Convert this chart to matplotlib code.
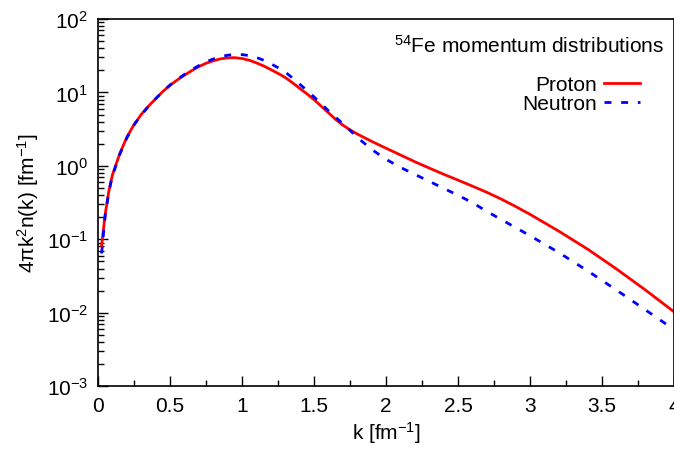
import matplotlib
matplotlib.use("Agg")
import matplotlib.pyplot as plt
from matplotlib.ticker import LogLocator, MultipleLocator, NullFormatter

plt.rcParams["font.family"] = ["Liberation Sans", "DejaVu Sans"]
plt.rcParams["mathtext.fontset"] = "custom"
plt.rcParams["mathtext.rm"] = "Liberation Sans"
plt.rcParams["mathtext.it"] = "Liberation Sans:italic"

# momentum k [fm^-1]
k = [0.025, 0.05, 0.075, 0.1, 0.15, 0.2, 0.25, 0.3, 0.35, 0.4, 0.45, 0.5,
     0.55, 0.6, 0.65, 0.7, 0.75, 0.8, 0.85, 0.9, 0.95, 1.0, 1.05, 1.1, 1.15,
     1.2, 1.25, 1.3, 1.35, 1.4, 1.45, 1.5, 1.55, 1.6, 1.65, 1.7, 1.75, 1.8,
     1.9, 2.0, 2.1, 2.2, 2.3, 2.4, 2.5, 2.6, 2.7, 2.8, 2.9, 3.0, 3.2, 3.4,
     3.6, 3.8, 4.0]
proton = [0.082, 0.22, 0.45, 0.75, 1.45, 2.45, 3.65, 5.0, 6.5, 8.2, 10.3,
          12.5, 14.8, 17.2, 19.8, 22.5, 25.0, 27.0, 28.7, 29.6, 29.8, 29.0,
          27.5, 25.3, 23.0, 20.5, 18.2, 16.0, 13.6, 11.4, 9.6, 8.0, 6.5, 5.3,
          4.3, 3.6, 3.1, 2.72, 2.16, 1.74, 1.41, 1.14, 0.935, 0.77, 0.64,
          0.53, 0.437, 0.353, 0.28, 0.219, 0.129, 0.0735, 0.0395, 0.0205,
          0.0103]
neutron = [0.064, 0.21, 0.44, 0.73, 1.42, 2.4, 3.6, 4.95, 6.45, 8.2, 10.3,
           12.6, 15.0, 17.6, 20.4, 23.2, 26.0, 28.6, 30.7, 32.2, 32.9, 32.8,
           31.8, 30.0, 27.5, 24.6, 21.8, 19.0, 15.8, 13.0, 10.7, 8.7, 7.0,
           5.65, 4.6, 3.75, 3.05, 2.45, 1.68, 1.23, 0.955, 0.767, 0.617,
           0.495, 0.398, 0.316, 0.240, 0.186, 0.1445, 0.112, 0.066, 0.0372,
           0.0204, 0.011, 0.0059]

fig = plt.figure(figsize=(6.74, 4.56), dpi=100)
ax = fig.add_axes([0.1454, 0.151, 0.8546, 0.805])

ax.plot(k, proton, color="#ff0000", lw=2.0, label="Proton")
ax.plot(k, neutron, color="#0000ff", lw=2.0, dashes=(2.5, 3.5), label="Neutron")

ax.set_yscale("log")
ax.set_xlim(0, 4)
ax.set_ylim(1e-3, 1e2)
ax.xaxis.set_major_locator(MultipleLocator(0.5))
ax.xaxis.set_minor_locator(MultipleLocator(0.25))
ax.yaxis.set_major_locator(LogLocator(base=10, numticks=10))
ax.yaxis.set_minor_locator(LogLocator(base=10, subs=range(2, 10), numticks=20))
ax.yaxis.set_minor_formatter(NullFormatter())
ax.xaxis.set_major_formatter(plt.FuncFormatter(lambda v, _: f"{v:g}"))

ax.tick_params(which="both", direction="in", top=False, right=False,
               labelsize=15, width=1.0)
ax.tick_params(which="major", length=7, pad=7)
ax.tick_params(which="minor", length=4)
for s in ax.spines.values():
    s.set_linewidth(1.2)

ax.set_xlabel(r"k [fm$^{-1}$]", fontsize=15, labelpad=3)
ax.set_ylabel(r"4πk$^{2}$n(k) [fm$^{-1}$]", fontsize=15, labelpad=4)

ax.text(0.982, 0.96, r"$^{54}$Fe momentum distributions", transform=ax.transAxes,
        ha="right", va="top", fontsize=15)

ax.legend(loc="upper right", bbox_to_anchor=(0.941, 0.848), frameon=False,
          markerfirst=False, fontsize=15, handlelength=1.75, handletextpad=0.3,
          labelspacing=0.0, borderpad=0.0, borderaxespad=0.0)

fig.savefig("out.png", dpi=100)
